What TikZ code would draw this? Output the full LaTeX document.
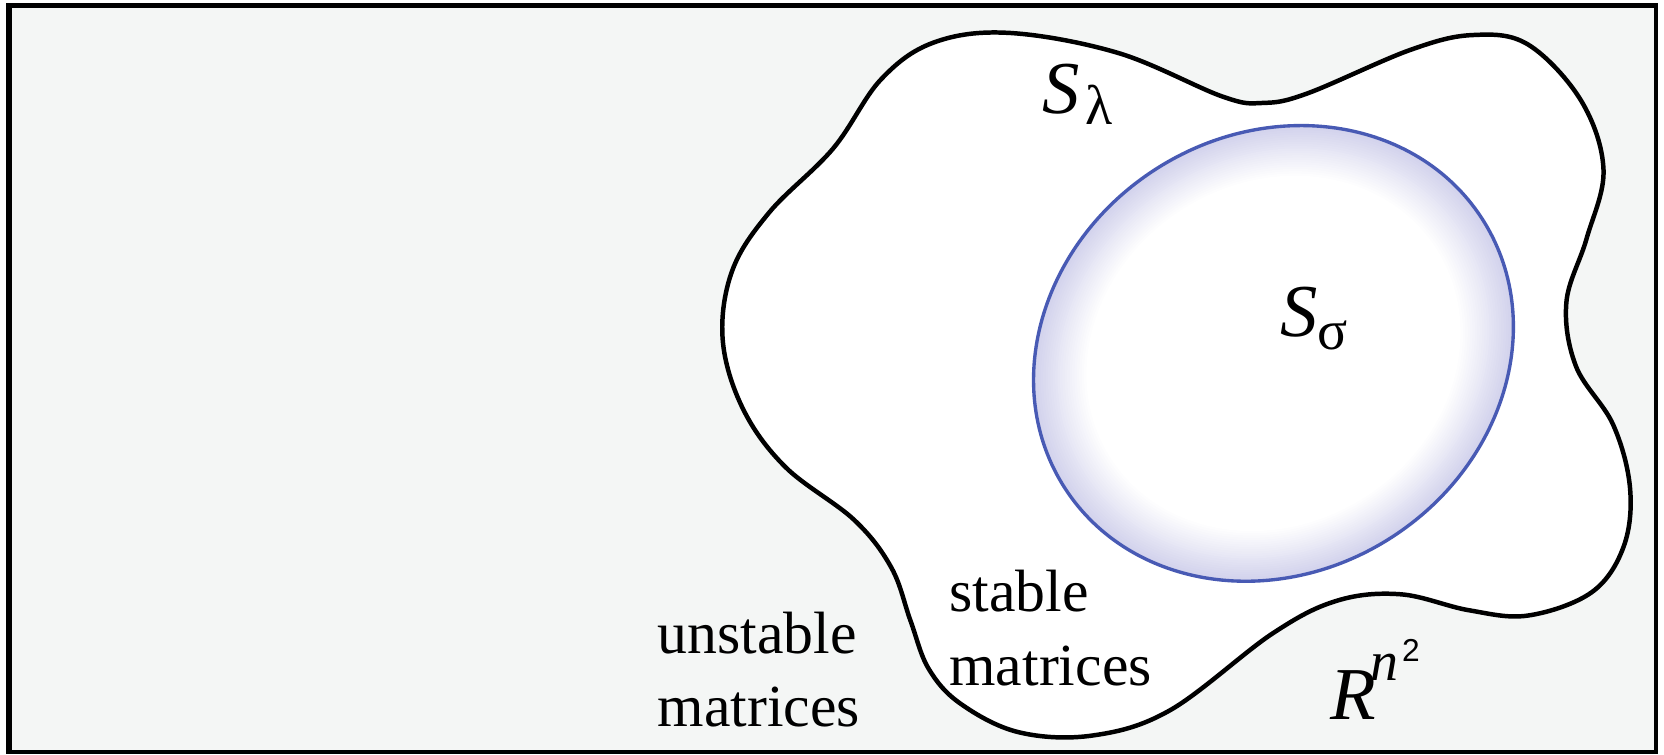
\documentclass[tikz,border=0pt]{standalone}
\usepackage{fontspec}
\setmainfont{Liberation Serif}
\newfontfamily\digitfont{Liberation Sans}
\definecolor{paper}{RGB}{244,246,245}
\definecolor{rim}{RGB}{210,210,236}
\definecolor{ringblue}{RGB}{72,90,180}
\begin{document}
\begin{tikzpicture}[x=0.01cm,y=-0.01cm,
    blob/.style={draw=black,line width=1.2pt,fill=white},
    ring/.style={draw=ringblue,line width=0.9pt},
    lbl/.style={inner sep=0pt,font=\fontsize{16}{19.8}\selectfont,align=left}]
% page and frame
\fill[white] (0,0) rectangle (1568,711);
\fill[black] (5.7,2.5) rectangle (1562,710.5);
\fill[paper] (11.3,7.8) rectangle (1558.5,706.5);
% set of matrices with real eigenvalues
\draw[blob] plot[smooth cycle,tension=0.6] coordinates {
  (951,31) (1054,50) (1152,91) (1190,97) (1232,88) (1329,47) (1388,33)
  (1440,42) (1490,95) (1511,160) (1495,225) (1476,285) (1485,345)
  (1520,400) (1536,460) (1530,515) (1500,558) (1440,580) (1384,575)
  (1320,560) (1260,566) (1199,597) (1103,669) (1030,693) (960,690)
  (905,663) (875,630) (858,585) (840,535) (805,490) (740,440)
  (700,385) (681,320) (690,255) (725,200) (785,140) (830,75) (880,40)};
% stable set, shaded rim
\begin{scope}[shift={(1200,333)},rotate=33]
  \foreach \f in {100,99,...,78}{
    \pgfmathsetmacro\pct{(\f-78)*100/22}
    \fill[rim!\pct!white] (0,0) ellipse ({2.34*\f} and {2.06*\f});
  }
  \draw[ring] (0,0) ellipse (234 and 206);
\end{scope}
% labels
\node[anchor=base west,inner sep=0pt] (slam) at (982,107)
  {\fontsize{20}{24}\selectfont\textit{S}\hspace{1.5pt}\raisebox{-3pt}{\fontsize{15}{18}\selectfont λ}};
\node[anchor=base west,inner sep=0pt] (ssig) at (1206,317)
  {\fontsize{20}{24}\selectfont\textit{S}\raisebox{-3.5pt}{\fontsize{15}{18}\selectfont σ}};
\node[anchor=base west,inner sep=0pt] (rn) at (1253,678)
  {\fontsize{20}{24}\selectfont\textit{R}\hspace{-1.5pt}\raisebox{10.5pt}{\fontsize{15}{18}\selectfont\textit{n}}\hspace{1pt}\raisebox{15.5pt}{\fontsize{8.5}{10}\selectfont\digitfont 2}};
\node[lbl,anchor=base west] (stab) at (894,645.5) {stable\\matrices};
\node[lbl,anchor=base west] (unstab) at (619,685) {unstable\\matrices};
\end{tikzpicture}
\end{document}
